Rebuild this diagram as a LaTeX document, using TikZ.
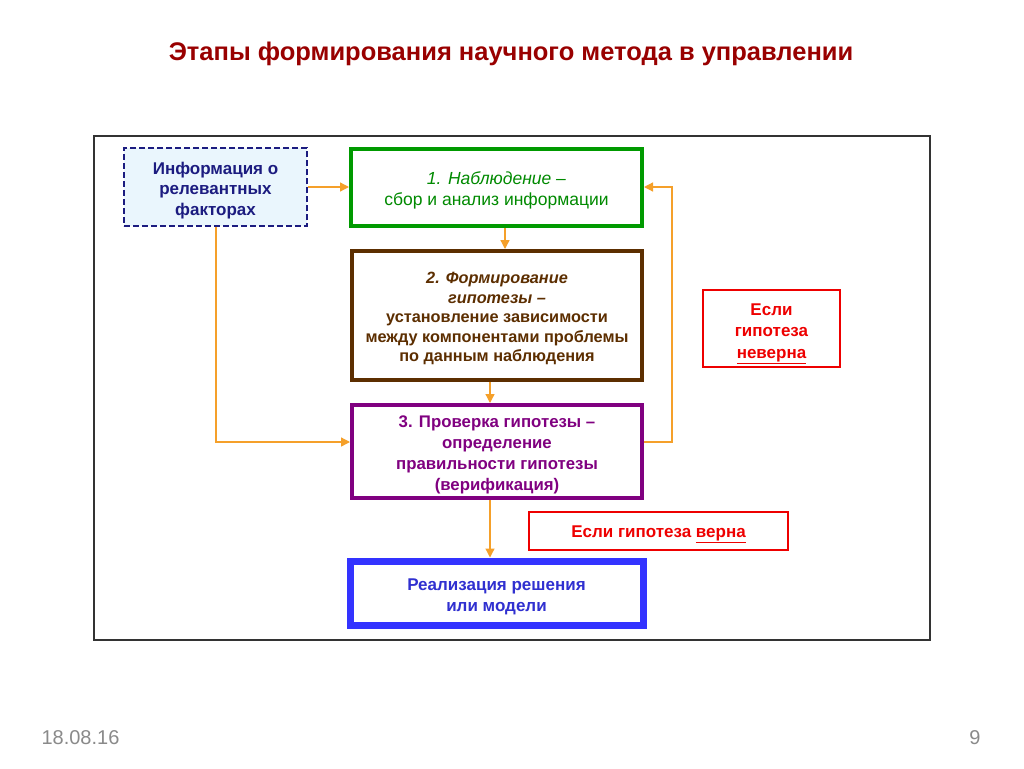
\documentclass[tikz,border=0pt]{standalone}
\usepackage{fontspec}
\setmainfont{Liberation Sans}
\usetikzlibrary{arrows.meta,calc}
\definecolor{titred}{HTML}{990000}
\definecolor{frame}{HTML}{333333}
\definecolor{navy}{HTML}{1C1C80}
\definecolor{infofill}{HTML}{EAF6FD}
\definecolor{grn}{HTML}{009A00}
\definecolor{grntext}{HTML}{008A00}
\definecolor{brn}{HTML}{5C2E00}
\definecolor{prp}{HTML}{800080}
\definecolor{rd}{HTML}{EE0000}
\definecolor{blu}{HTML}{3333FF}
\definecolor{blutext}{HTML}{3030D0}
\definecolor{orng}{HTML}{F5A02A}
\definecolor{foot}{HTML}{8A8A8A}
\newcommand\tstrut[1]{\rule{0pt}{#1}}
\tikzset{
  box/.style={draw, rectangle, inner sep=0pt, align=center, font=\fontsize{17}{20.5}\selectfont\bfseries},
  conn/.style={draw=orng, line width=1.3pt, -{Triangle[length=9pt,width=9pt]}},
}
\begin{document}
\begin{tikzpicture}[x=1pt,y=-1pt]
\useasboundingbox[fill=white] (0,0) rectangle (1024,768);
% title
\node[text=titred, font=\fontsize{25.5}{30}\selectfont\bfseries] (title) at (511,54) {Этапы формирования научного метода в управлении};
% outer frame
\draw[frame, line width=1.3pt] (94,136) rectangle (930,640);
% boxes
\node[box, draw=navy, fill=infofill, dash pattern=on 6pt off 3pt, line width=1.2pt, text=navy,
      minimum width=183pt, minimum height=78pt] (info) at (215.5,187)
      {\tstrut{19pt}Информация о\\релевантных\\факторах};
\node[box, draw=grn, line width=4pt, text=grntext, font=\fontsize{17.5}{21}\selectfont,
      minimum width=291pt, minimum height=77pt] (b1) at (496.5,187.5)
      {\tstrut{19pt}\textit{1. Наблюдение –}\\сбор и анализ информации};
\node[box, draw=brn, line width=4pt, text=brn, font=\fontsize{16.3}{19.5}\selectfont\bfseries,
      minimum width=290pt, minimum height=129pt] (b2) at (497,315.5)
      {\tstrut{18pt}\textit{2. Формирование}\\\textit{гипотезы –}\\установление зависимости\\между компонентами проблемы\\по данным наблюдения};
\node[box, draw=prp, line width=4pt, text=prp, font=\fontsize{16.8}{21}\selectfont\bfseries,
      minimum width=290pt, minimum height=93pt] (b3) at (497,451.5)
      {\tstrut{19pt}3. Проверка гипотезы –\\определение\\правильности гипотезы\\(верификация)};
\node[box, draw=rd, line width=2.2pt, text=rd, font=\fontsize{17}{21.5}\selectfont\bfseries,
      minimum width=137pt, minimum height=77pt] (no) at (771.5,328.5)
      {\tstrut{22pt}Если\\гипотеза\\\underline{неверна}};
\node[box, draw=rd, line width=2.2pt, text=rd,
      minimum width=259pt, minimum height=38pt] (yes) at (658.5,531)
      {\tstrut{18pt}Если гипотеза \underline{верна}};
\node[box, draw=blu, line width=7pt, text=blutext, font=\fontsize{17}{21}\selectfont\bfseries,
      minimum width=293pt, minimum height=64pt] (fin) at (496.5,593)
      {\tstrut{19pt}Реализация решения\\или модели};
% helper coordinates
\coordinate (xa) at (505,0);
\coordinate (xb) at (490,0);
\coordinate (xl) at (216,0);
\coordinate (xr) at (672,0);
\coordinate (ya) at (0,187);
\coordinate (yb) at (0,442);
% connectors
\draw[conn] (info.east |- ya) -- (b1.west |- ya);
\draw[conn] (b1.south -| xa) -- (b2.north -| xa);
\draw[conn] (b2.south -| xb) -- (b3.north -| xb);
\draw[conn] (info.south -| xl) -- (xl |- yb) -- (b3.west |- yb);
\draw[conn] (b3.east |- yb) -- (xr |- yb) -- (xr |- ya) -- (b1.east |- ya);
\draw[conn] (b3.south -| xb) -- (fin.north -| xb);
% footer
\node[text=foot, font=\fontsize{20}{22}\selectfont, anchor=west] (date) at (38,738) {18.08.16};
\node[text=foot, font=\fontsize{20}{22}\selectfont] (page) at (975,738) {9};
\end{tikzpicture}
\end{document}
